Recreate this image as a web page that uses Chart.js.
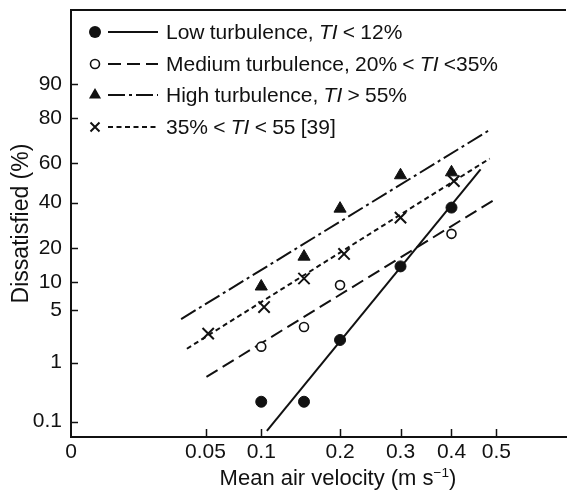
<!DOCTYPE html>
<html>
<head>
<meta charset="utf-8">
<script src="https://cdn.jsdelivr.net/npm/chart.js@4.4.6/dist/chart.umd.min.js"></script>
<style>
  html, body { margin: 0; padding: 0; background: #fff; }
  #wrap { position: relative; width: 576px; height: 496px; font-family: "Liberation Sans", Arial, sans-serif; color: #111; }
  #legend { position: absolute; left: 86px; top: 0; }
  .row { position: absolute; left: 0; height: 32px; display: flex; align-items: center; white-space: nowrap; font-size: 21px; word-spacing: -0.6px; }
  #xtitle { position: absolute; left: 338px; top: 466px; transform: translateX(-50%); font-size: 22px; line-height: 24px; white-space: nowrap; }
  #xtitle sup { font-size: 0.62em; line-height: 0; vertical-align: 0.6em; }
</style>
</head>
<body>
<div id="wrap">
  <canvas id="chart" width="576" height="496"></canvas>
  <div id="legend"></div>
  <div id="xtitle">Mean air velocity (m s<sup>−1</sup>)</div>
</div>
<script>
// measured points, velocity in m/s, dissatisfied in %
const velLow = [0.1, 0.15, 0.2, 0.3, 0.4];
const dissLow = [0.23, 0.23, 2.1, 14, 37.5];
const velMed = [0.1, 0.15, 0.2, 0.4];
const dissMed = [1.7, 3.1, 9.3, 25.5];
const velHigh = [0.1, 0.15, 0.2, 0.3, 0.4];
const dissHigh = [9, 17, 37, 54, 55.5];
const velRef = [0.052, 0.103, 0.15, 0.206, 0.3, 0.405];
const dissRef = [2.55, 5.4, 10.8, 17.9, 32.7, 51];

// fitted lines (end points as drawn)
const lineLowVel = [0.106, 0.4635];
const lineLowDiss = [0.066, 57];
const lineMedVel = [0.0507, 0.4996];
const lineMedDiss = [0.6, 42];
const lineHighVel = [0.0335, 0.4843];
const lineHighDiss = [3.9, 75.4];
const lineRefVel = [0.0371, 0.4843];
const lineRefDiss = [1.59, 62.4];

const seriesNames = [
  'Low turbulence, TI < 12%',
  'Medium turbulence, 20% < TI <35%',
  'High turbulence, TI > 55%',
  '35% < TI < 55 [39]'
];

const xTicks = [0, 0.05, 0.1, 0.2, 0.3, 0.4, 0.5];
const yTicks = [0.1, 1, 5, 10, 20, 40, 60, 80, 90];
const xRange = [0, 0.677];
const yRange = [0.05, 98.75];

const INK = '#111';
const FONT = '"Liberation Sans", Arial, sans-serif';

// inverse normal (Acklam)
function probit(p) {
  const a = [-39.69683028665376, 220.9460984245205, -275.9285104469687, 138.3577518672690, -30.66479806614716, 2.506628277459239];
  const b = [-54.47609879822406, 161.5858368580409, -155.6989798598866, 66.80131188771972, -13.28068155288572];
  const c = [-0.007784894002430293, -0.3223964580411365, -2.400758277161838, -2.549732539343734, 4.374664141464968, 2.938163982698783];
  const d = [0.007784695709041462, 0.3224671290700398, 2.445134137142996, 3.754408661907416];
  const lo = 0.02425;
  if (p < lo) {
    const q = Math.sqrt(-2 * Math.log(p));
    return (((((c[0]*q+c[1])*q+c[2])*q+c[3])*q+c[4])*q+c[5]) / ((((d[0]*q+d[1])*q+d[2])*q+d[3])*q+1);
  }
  if (p > 1 - lo) {
    const q = Math.sqrt(-2 * Math.log(1 - p));
    return -(((((c[0]*q+c[1])*q+c[2])*q+c[3])*q+c[4])*q+c[5]) / ((((d[0]*q+d[1])*q+d[2])*q+d[3])*q+1);
  }
  const q = p - 0.5, r = q * q;
  return (((((a[0]*r+a[1])*r+a[2])*r+a[3])*r+a[4])*r+a[5])*q / (((((b[0]*r+b[1])*r+b[2])*r+b[3])*r+b[4])*r+1);
}
function normCdf(z) {
  const t = 1 / (1 + 0.3275911 * Math.abs(z) / Math.SQRT2);
  const e = 1 - (((((1.061405429*t - 1.453152027)*t) + 1.421413741)*t - 0.284496736)*t + 0.254829592)*t * Math.exp(-z*z/2);
  return 0.5 * (1 + (z < 0 ? -e : e));
}

// square-root velocity axis
class SqrtScale extends Chart.Scale {
  static id = 'sqrt';
  static defaults = {};
  determineDataLimits() { this.min = this.options.min; this.max = this.options.max; }
  buildTicks() { return (this.options.tickValues || []).map(value => ({ value })); }
  fwd(v) { return Math.sqrt(v); }
  inv(t) { return t * t; }
  configure() {
    super.configure();
    this._lo = this.fwd(this.min);
    this._hi = this.fwd(this.max);
  }
  getPixelForValue(v) { return this.getPixelForDecimal((this.fwd(v) - this._lo) / (this._hi - this._lo)); }
  getValueForPixel(px) { return this.inv(this._lo + this.getDecimalForPixel(px) * (this._hi - this._lo)); }
  getLabelForValue(v) { return String(v); }
}
// probability (probit) axis for percentages
class ProbitScale extends SqrtScale {
  static id = 'probit';
  static defaults = {};
  fwd(v) { return probit(v / 100); }
  inv(t) { return 100 * normCdf(t); }
}
Chart.register(SqrtScale, ProbitScale);

const pts = (xs, ys) => xs.map((x, i) => ({ x, y: ys[i] }));

const markers = [
  { pointStyle: 'circle', pointRadius: 5.5, pointBackgroundColor: INK, pointBorderWidth: 1 },
  { pointStyle: 'circle', pointRadius: 4.5, pointBackgroundColor: '#fff', pointBorderWidth: 1.6 },
  { pointStyle: 'triangle', pointRadius: 7, pointBackgroundColor: INK, pointBorderWidth: 1 },
  { pointStyle: 'crossRot', pointRadius: 8, pointBackgroundColor: INK, pointBorderWidth: 2 }
];
const dashes = [[], [13, 6], [17, 4, 3, 4], [5, 3.5]];

const pointSets = [pts(velLow, dissLow), pts(velMed, dissMed), pts(velHigh, dissHigh), pts(velRef, dissRef)];
const lineSets = [pts(lineLowVel, lineLowDiss), pts(lineMedVel, lineMedDiss), pts(lineHighVel, lineHighDiss), pts(lineRefVel, lineRefDiss)];

const datasets = [];
pointSets.forEach((data, i) => {
  datasets.push(Object.assign({ label: seriesNames[i], data, showLine: false, pointBorderColor: INK }, markers[i]));
});
lineSets.forEach((data, i) => {
  datasets.push({ label: seriesNames[i] + ' fit', data, showLine: true, pointRadius: 0, borderColor: INK, borderWidth: 2, borderDash: dashes[i], fill: false });
});

// top frame line and inward tick marks
const frame = {
  id: 'frame',
  afterDraw(chart) {
    const { ctx, chartArea: a, scales: { x, y } } = chart;
    ctx.save();
    ctx.strokeStyle = INK;
    ctx.lineWidth = 2;
    ctx.beginPath();
    ctx.moveTo(a.left - 1, a.top);
    ctx.lineTo(a.right, a.top);
    ctx.stroke();
    ctx.lineWidth = 1.5;
    ctx.beginPath();
    x.ticks.forEach(t => {
      if (t.value === 0) return;
      const px = Math.round(x.getPixelForValue(t.value)) + 0.5;
      ctx.moveTo(px, a.bottom);
      ctx.lineTo(px, a.bottom - 8);
    });
    y.ticks.forEach(t => {
      const py = Math.round(y.getPixelForValue(t.value)) + 0.5;
      ctx.moveTo(a.left, py);
      ctx.lineTo(a.left + 7, py);
    });
    ctx.stroke();
    ctx.restore();
  }
};

Chart.defaults.font.family = FONT;
Chart.defaults.color = INK;

new Chart(document.getElementById('chart'), {
  type: 'scatter',
  data: { datasets },
  options: {
    responsive: false,
    animation: false,
    events: [],
    layout: { padding: { top: 6, left: 0, right: 0, bottom: 0 } },
    plugins: { legend: { display: false }, tooltip: { enabled: false } },
    scales: {
      x: {
        type: 'sqrt', position: 'bottom', min: xRange[0], max: xRange[1], tickValues: xTicks,
        grid: { display: false, drawTicks: false },
        border: { display: true, color: INK, width: 2 },
        ticks: { font: { size: 21 }, color: INK, padding: 3, autoSkip: false, maxRotation: 0, minRotation: 0 },
        afterFit: s => { s.height = 59; s.paddingLeft = 0; s.paddingRight = 0; }
      },
      y: {
        type: 'probit', position: 'left', min: yRange[0], max: yRange[1], tickValues: yTicks,
        grid: { display: false, drawTicks: false },
        border: { display: true, color: INK, width: 2 },
        ticks: { font: { size: 21 }, color: INK, padding: 9, autoSkip: false },
        title: { display: true, text: 'Dissatisfied (%)', font: { size: 23 }, color: INK, padding: { top: 8, bottom: 0 } },
        afterFit: s => { s.width = 71; s.paddingTop = 0; s.paddingBottom = 0; }
      }
    }
  },
  plugins: [frame]
});

// legend: marker + line sample + label (TI in italics)
function legendIcon(i) {
  const cy = 16;
  let mark;
  if (i === 0) mark = `<circle cx="9" cy="${cy}" r="6" fill="${INK}"/>`;
  else if (i === 1) mark = `<circle cx="9" cy="${cy}" r="4.5" fill="#fff" stroke="${INK}" stroke-width="1.6"/>`;
  else if (i === 2) mark = `<polygon points="9,${cy - 7} ${9 + 6.06},${cy + 3.5} ${9 - 6.06},${cy + 3.5}" fill="${INK}"/>`;
  else mark = `<path d="M4.5 ${cy - 4.5} L13.5 ${cy + 4.5} M13.5 ${cy - 4.5} L4.5 ${cy + 4.5}" stroke="${INK}" stroke-width="2"/>`;
  const dash = dashes[i].length ? `stroke-dasharray="${dashes[i].join(' ')}"` : '';
  return `<svg width="80" height="32" viewBox="0 0 80 32">${mark}<line x1="22" y1="${cy}" x2="72" y2="${cy}" stroke="${INK}" stroke-width="2.2" ${dash}/></svg>`;
}
const legendBox = document.getElementById('legend');
seriesNames.forEach((name, i) => {
  const row = document.createElement('div');
  row.className = 'row';
  row.style.top = (16 + i * 31.7) + 'px';
  row.innerHTML = legendIcon(i);
  const label = document.createElement('span');
  name.split('TI').forEach((part, j) => {
    if (j > 0) {
      const it = document.createElement('i');
      it.textContent = 'TI';
      label.appendChild(it);
    }
    label.appendChild(document.createTextNode(part));
  });
  row.appendChild(label);
  legendBox.appendChild(row);
});
</script>
</body>
</html>
